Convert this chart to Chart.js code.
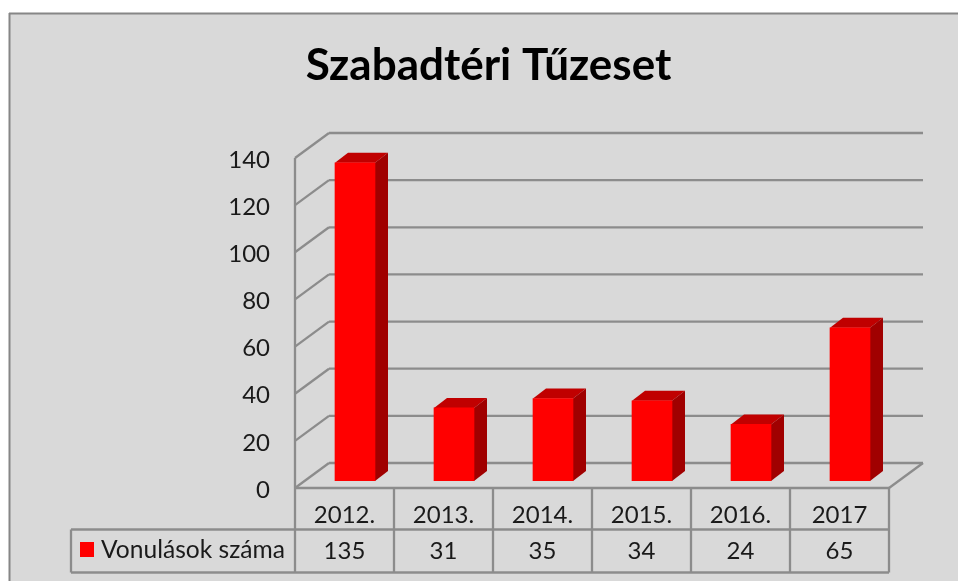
<!DOCTYPE html>
<html>
<head>
<meta charset="utf-8">
<script src="https://cdn.jsdelivr.net/npm/chart.js@4"></script>
<style>
  html, body { margin: 0; padding: 0; background: #fff; }
  canvas { display: block; }
</style>
</head>
<body>
<canvas id="myChart" width="958" height="581"></canvas>
<script>
var categories = ['2012.', '2013.', '2014.', '2015.', '2016.', '2017'];
var values = [135, 31, 35, 34, 24, 65];
var seriesName = 'Vonulások száma';
var chartTitle = 'Szabadtéri Tűzeset';
var tickValues = [0, 20, 40, 60, 80, 100, 120, 140];

var LINE = '#8c8c8c';
var FONT = 'Lato, "Open Sans", sans-serif';
// depth of the fake 3D box
var backX = 34, backY = -25;
var barShiftX = 10.5, barShiftY = -7;
var barDepthX = 13, barDepthY = -10;

function line(ctx, x1, y1, x2, y2) {
  ctx.beginPath();
  ctx.moveTo(x1, y1);
  ctx.lineTo(x2, y2);
  ctx.stroke();
}

var box3d = {
  id: 'box3d',
  beforeDraw: function (chart) {
    var ctx = chart.ctx;
    ctx.save();
    ctx.fillStyle = '#fff';
    ctx.fillRect(0, 0, chart.width, chart.height);
    ctx.fillStyle = '#d9d9d9';
    ctx.fillRect(9, 13, chart.width - 9, chart.height - 13);
    ctx.strokeStyle = '#868686';
    ctx.lineWidth = 2;
    line(ctx, 9.5, 13, 9.5, chart.height);
    line(ctx, 9, 13.5, chart.width, 13.5);
    ctx.restore();
  },
  beforeDatasetsDraw: function (chart) {
    var ctx = chart.ctx, a = chart.chartArea, y = chart.scales.y;
    ctx.save();
    ctx.strokeStyle = LINE;
    ctx.lineWidth = 2.3;
    tickValues.forEach(function (v) {
      var py = y.getPixelForValue(v);
      line(ctx, a.left, py, a.left + backX, py + backY);
      line(ctx, a.left + backX, py + backY, a.right + backX, py + backY);
    });
    line(ctx, a.left, a.top, a.left, a.bottom);
    line(ctx, a.right, a.bottom, a.right + backX, a.bottom + backY);
    ctx.restore();

    // side and top faces of the bars
    ctx.save();
    chart.getDatasetMeta(0).data.forEach(function (bar) {
      var p = bar.getProps(['x', 'y', 'base', 'width'], true);
      var l = p.x - p.width / 2 + barShiftX, r = p.x + p.width / 2 + barShiftX;
      var t = p.y + barShiftY, b = p.base + barShiftY;
      ctx.fillStyle = '#c00000';
      ctx.beginPath();
      ctx.moveTo(l, t);
      ctx.lineTo(l + barDepthX, t + barDepthY);
      ctx.lineTo(r + barDepthX, t + barDepthY);
      ctx.lineTo(r, t);
      ctx.closePath();
      ctx.fill();
      ctx.fillStyle = '#a00000';
      ctx.beginPath();
      ctx.moveTo(r, t);
      ctx.lineTo(r + barDepthX, t + barDepthY);
      ctx.lineTo(r + barDepthX, b + barDepthY);
      ctx.lineTo(r, b);
      ctx.closePath();
      ctx.fill();
    });
    ctx.restore();

    ctx.save();
    ctx.translate(barShiftX, barShiftY);
  },
  afterDatasetsDraw: function (chart) {
    var ctx = chart.ctx;
    ctx.restore();

    // data table under the plot
    var a = chart.chartArea, x = chart.scales.x;
    var rowY = 529.5, endY = 572.5, nameX = 71;
    var step = (a.right - a.left) / categories.length;
    ctx.save();
    ctx.strokeStyle = LINE;
    ctx.lineWidth = 2.3;
    line(ctx, a.left, a.bottom, a.right, a.bottom);
    line(ctx, nameX, rowY, a.right, rowY);
    line(ctx, nameX, endY, a.right, endY);
    line(ctx, nameX, rowY, nameX, endY);
    for (var i = 0; i <= categories.length; i++) {
      line(ctx, a.left + i * step, a.bottom, a.left + i * step, endY);
    }
    ctx.fillStyle = '#1a1a1a';
    ctx.font = '24px ' + FONT;
    ctx.textAlign = 'center';
    ctx.textBaseline = 'middle';
    values.forEach(function (v, i) {
      ctx.fillText(String(v), x.getPixelForValue(i), 551);
    });
    ctx.textAlign = 'left';
    ctx.font = '24.6px ' + FONT;
    ctx.fillText(seriesName, 101, 550);
    ctx.fillStyle = '#ff0000';
    ctx.fillRect(80, 542, 14, 15);
    ctx.restore();
  }
};

new Chart(document.getElementById('myChart').getContext('2d'), {
  type: 'bar',
  plugins: [box3d],
  data: {
    labels: categories,
    datasets: [{
      label: seriesName,
      data: values,
      backgroundColor: '#ff0000',
      barThickness: 40
    }]
  },
  options: {
    responsive: false,
    animation: false,
    layout: { padding: { left: 88, right: 69, top: 30, bottom: 0 } },
    plugins: {
      legend: { display: false },
      tooltip: { enabled: false },
      title: {
        display: true,
        text: chartTitle,
        color: '#000',
        font: { family: FONT, size: 44, weight: 'bold', lineHeight: 1.2 },
        padding: { top: 9, bottom: 66.2 }
      }
    },
    scales: {
      x: {
        grid: { display: false, drawTicks: false },
        border: { display: false },
        afterFit: function (s) { s.height = 93; },
        ticks: { color: '#1a1a1a', font: { family: FONT, size: 24 }, padding: 13, maxRotation: 0 }
      },
      y: {
        min: 0,
        max: 140,
        grid: { display: false, drawTicks: false },
        border: { display: false },
        afterFit: function (s) { s.width = 207; },
        ticks: { stepSize: 20, color: '#1a1a1a', font: { family: FONT, size: 24 }, padding: 25, labelOffset: 2 }
      }
    }
  }
});
</script>
</body>
</html>
